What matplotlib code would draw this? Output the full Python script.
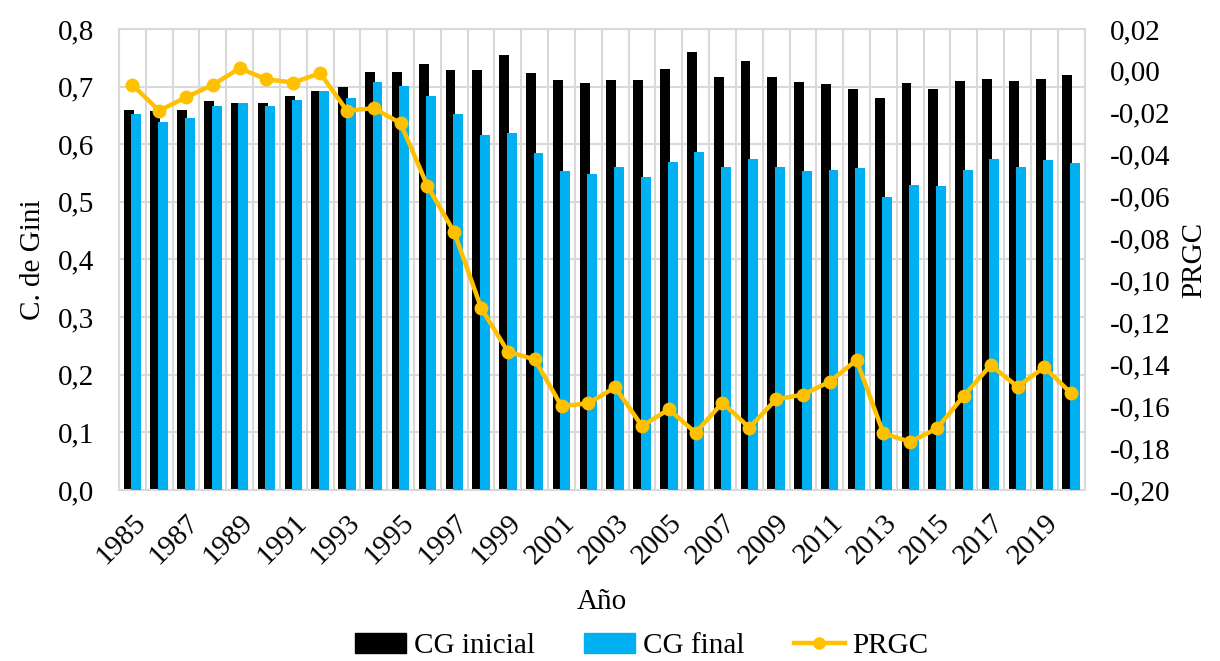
import matplotlib
matplotlib.use("Agg")
import matplotlib.pyplot as plt
import numpy as np
from matplotlib.ticker import FuncFormatter, MultipleLocator
from matplotlib.lines import Line2D
from matplotlib.patches import Patch

plt.rcParams["font.family"] = ["Liberation Serif", "DejaVu Serif"]

YEARS = list(range(1985, 2021))
CG_INICIAL = [0.659, 0.657, 0.659, 0.675, 0.671, 0.671, 0.683, 0.693, 0.700, 0.726,
              0.726, 0.739, 0.729, 0.729, 0.754, 0.723, 0.712, 0.706, 0.712, 0.712,
              0.731, 0.760, 0.716, 0.745, 0.716, 0.708, 0.704, 0.696, 0.681, 0.706,
              0.696, 0.710, 0.714, 0.710, 0.714, 0.720]
CG_FINAL = [0.652, 0.638, 0.646, 0.667, 0.671, 0.667, 0.677, 0.693, 0.681, 0.708,
            0.701, 0.683, 0.652, 0.616, 0.619, 0.585, 0.554, 0.549, 0.560, 0.543,
            0.570, 0.586, 0.560, 0.574, 0.560, 0.554, 0.556, 0.558, 0.508, 0.529,
            0.527, 0.556, 0.574, 0.560, 0.572, 0.568]
PRGC = [-0.0067, -0.019, -0.0126, -0.0067, 0.0012, -0.004, -0.0056, -0.0011, -0.019, -0.0178,
        -0.025, -0.0549, -0.077, -0.113, -0.134, -0.1377, -0.160, -0.1586, -0.151, -0.1695,
        -0.1615, -0.1727, -0.1583, -0.1703, -0.1567, -0.1545, -0.1483, -0.138, -0.173, -0.177,
        -0.1706, -0.155, -0.1404, -0.1507, -0.1414, -0.1539]

BLACK = "#000000"
BLUE = "#00B0F0"
GOLD = "#FFC000"
GRID = "#D9D9D9"
FS = 21

x = np.arange(len(YEARS))

fig = plt.figure(figsize=(12.2, 6.61), dpi=100)
ax = fig.add_axes([0.0975, 0.2587, 0.7915, 0.6975])

bar_w = 0.37
ax.bar(x - 0.14, CG_INICIAL, bar_w, color=BLACK, zorder=2)
ax.bar(x + 0.14, CG_FINAL, bar_w, color=BLUE, zorder=3)

ax.set_xlim(-0.5, len(YEARS) - 0.5)
ax.set_ylim(0, 0.8)
ax.yaxis.set_major_locator(MultipleLocator(0.1))
ax.yaxis.set_major_formatter(FuncFormatter(lambda v, _: f"{v:.1f}".replace(".", ",")))
ax.set_xticks(x[::2])
ax.set_xticklabels([str(y) for y in YEARS[::2]], rotation=45, ha="right",
                   rotation_mode="anchor", fontsize=FS)
ax.set_xticks(np.arange(-0.5, len(YEARS)), minor=True)
ax.set_axisbelow(True)
ax.yaxis.grid(True, color=GRID, linewidth=1.5)
ax.xaxis.grid(True, which="minor", color=GRID, linewidth=1.5)
ax.tick_params(axis="both", which="both", length=0, labelsize=FS)
ax.tick_params(axis="x", pad=14)
ax.tick_params(axis="y", pad=18)
for s in ax.spines.values():
    s.set_color(GRID)
    s.set_linewidth(1.5)
ax.set_ylabel("C. de Gini", fontsize=FS, labelpad=8)
ax.set_xlabel("Año", fontsize=FS, labelpad=14)

ax2 = ax.twinx()
ax2.plot(x, PRGC, color=GOLD, linewidth=3.2, marker="o", markersize=9, zorder=5)
ax2.set_ylim(-0.20, 0.02)
ax2.yaxis.set_major_locator(MultipleLocator(0.02))
ax2.yaxis.set_major_formatter(FuncFormatter(lambda v, _: f"{v:.2f}".replace(".", ",")
                                            .replace("-0,00", "0,00")))
ax2.tick_params(axis="y", length=0, labelsize=FS, pad=18)
for s in ax2.spines.values():
    s.set_visible(False)
ax2.set_ylabel("PRGC", fontsize=FS, labelpad=8)

handles = [Patch(color=BLACK, label="CG inicial"),
           Patch(color=BLUE, label="CG final"),
           Line2D([], [], color=GOLD, linewidth=3.2, marker="o", markersize=8, label="PRGC")]
fig.legend(handles=handles, loc="center", bbox_to_anchor=(0.526, 0.022), ncol=3,
           frameon=False, fontsize=FS, handlelength=1.75, handleheight=0.65,
           handletextpad=0.25, columnspacing=1.7)

fig.savefig("out.png", dpi=100)
